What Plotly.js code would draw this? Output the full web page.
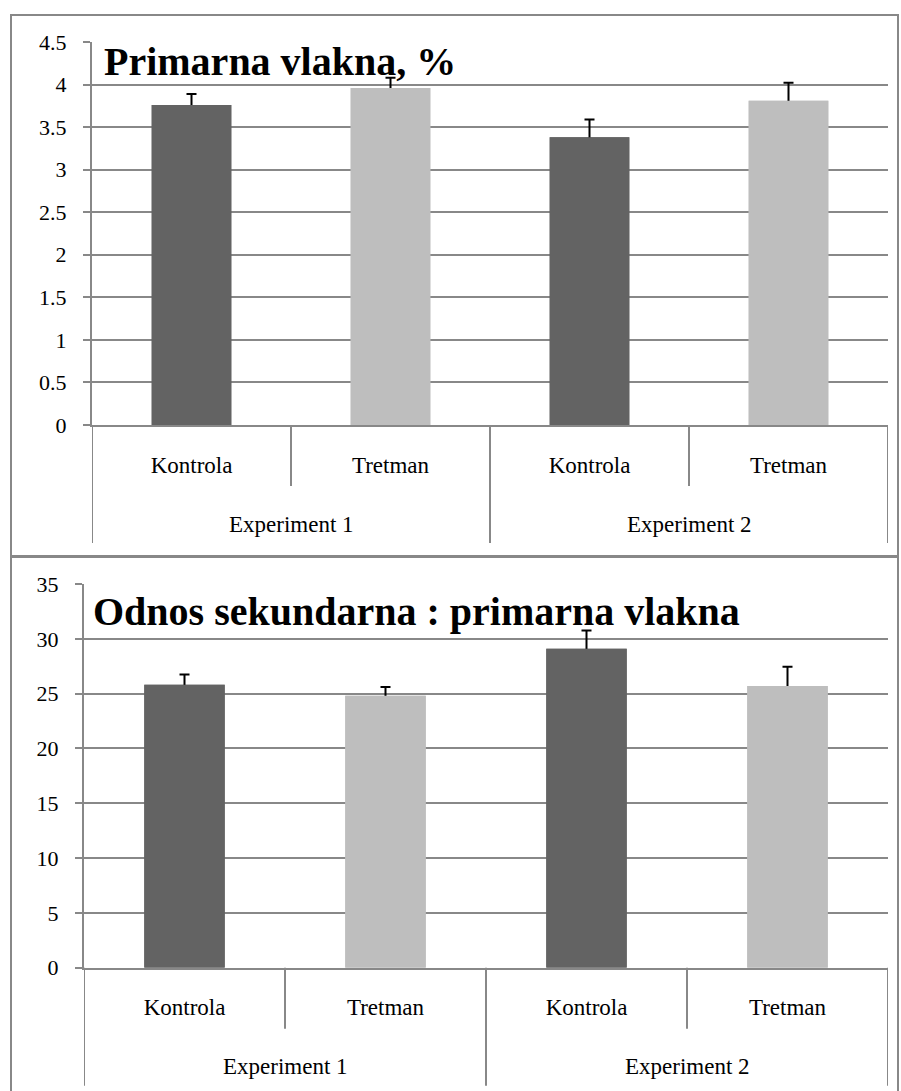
<!DOCTYPE html>
<html>
<head>
<meta charset="utf-8">
<script src="https://cdn.plot.ly/plotly-3.0.1.min.js"></script>
<style>
html,body{margin:0;padding:0;background:#fff;}
#chart{width:901px;height:1091px;}
</style>
</head>
<body>
<div id="chart"></div>
<script>
// ---- data ----
const experiments = ["Experiment 1", "Experiment 1", "Experiment 2", "Experiment 2"];
const groups = ["Kontrola", "Tretman", "Kontrola", "Tretman"];
const primarnaValues = [3.76, 3.96, 3.38, 3.81];
const primarnaErrors = [0.13, 0.12, 0.21, 0.21];
const odnosValues = [25.8, 24.8, 29.1, 25.7];
const odnosErrors = [0.95, 0.8, 1.65, 1.75];
const barColors = ["#636363", "#bebebe", "#636363", "#bebebe"];
const title1 = "Primarna vlakna, %";
const title2 = "Odnos sekundarna : primarna vlakna";

// ---- layout helpers ----
const W = 901, H = 1091;
const px = v => v / W;
const py = v => 1 - v / H;
const GRID = "#888888";
const FONT = "Liberation Serif, Times New Roman, serif";

// unique category ids (experiment + group), shown with the group name only
const cats = groups.map((g, i) => experiments[i] + " | " + g);

function barTraces(vals, errs, xa, ya) {
  return [
    { type: "bar", x: cats, y: vals, xaxis: xa, yaxis: ya, width: 0.4,
      marker: { color: barColors, line: { width: 0 } },
      error_y: { type: "data", array: errs, symmetric: true, visible: true,
                 color: "#000", thickness: 2, width: 5 },
      hoverinfo: "skip", showlegend: false },
    { type: "bar", x: cats, y: vals, xaxis: xa, yaxis: ya, width: 0.4,
      marker: { color: barColors, line: { width: 0 } },
      hoverinfo: "skip", showlegend: false }
  ];
}

// dividers + experiment labels below a category axis
function axisDecor(xref, axisPx) {
  const shapes = [], anns = [];
  const n = groups.length;
  for (let i = 0; i <= n; i++) {
    const outer = (i === 0 || i === n || experiments[i] !== experiments[i - 1]);
    const len = outer ? 118 : 61;
    shapes.push({ type: "line", xref: xref, yref: "paper", x0: i - 0.5, x1: i - 0.5,
      y0: py(axisPx), y1: py(axisPx + len), line: { color: GRID, width: 2 } });
  }
  const uniq = [...new Set(experiments)];
  uniq.forEach(e => {
    const idx = experiments.map((v, i) => v === e ? i : -1).filter(i => i >= 0);
    const mid = (idx[0] + idx[idx.length - 1]) / 2;
    anns.push({ xref: xref, yref: "paper", x: mid, y: py(axisPx + 99), xanchor: "center", yanchor: "middle",
      text: e, showarrow: false, font: { family: FONT, size: 23, color: "#000" } });
  });
  return { shapes, anns };
}

const xCommon = {
  type: "category",
  tickvals: cats, ticktext: groups,
  showgrid: false,
  showline: true, linecolor: GRID, linewidth: 2,
  ticks: "",
  ticklabelstandoff: 18,
  tickfont: { family: FONT, size: 23, color: "#000" },
  range: [-0.5, groups.length - 0.5],
  fixedrange: true
};
const yCommon = {
  showgrid: true, gridcolor: GRID, gridwidth: 2,
  showline: true, linecolor: GRID, linewidth: 2,
  ticks: "outside", ticklen: 7, tickcolor: GRID, tickwidth: 2,
  zeroline: false,
  tickfont: { family: FONT, size: 22, color: "#000" },
  ticklabelstandoff: 12,
  fixedrange: true
};

const data = [].concat(
  barTraces(primarnaValues, primarnaErrors, "x", "y"),
  barTraces(odnosValues, odnosErrors, "x2", "y2")
);

const d1 = axisDecor("x", 425);
const d2 = axisDecor("x2", 967.7);

const layout = {
  width: W, height: H,
  margin: { l: 0, r: 0, t: 0, b: 0 },
  paper_bgcolor: "#fff", plot_bgcolor: "rgba(0,0,0,0)",
  barmode: "overlay",
  showlegend: false,
  xaxis: Object.assign({}, xCommon, { domain: [px(92), px(888)], anchor: "y" }),
  yaxis: Object.assign({}, yCommon, { domain: [py(425), py(42)], range: [0, 4.5], dtick: 0.5, anchor: "x" }),
  xaxis2: Object.assign({}, xCommon, { domain: [px(84), px(888)], anchor: "y2" }),
  yaxis2: Object.assign({}, yCommon, { domain: [py(967.7), py(584)], range: [0, 35], dtick: 5, anchor: "x2" }),
  annotations: [
    { xref: "paper", yref: "paper", x: px(102), y: py(61), xanchor: "left", yanchor: "middle",
      text: "<b>" + title1 + "</b>", showarrow: false,
      font: { family: FONT, size: 40, color: "#000" } },
    { xref: "paper", yref: "paper", x: px(91), y: py(611), xanchor: "left", yanchor: "middle",
      text: "<b>" + title2 + "</b>", showarrow: false,
      font: { family: FONT, size: 40, color: "#000" } }
  ].concat(d1.anns, d2.anns),
  shapes: [
    { type: "rect", xref: "paper", yref: "paper", x0: px(11), x1: px(898), y0: py(556), y1: py(15),
      line: { color: GRID, width: 2 }, layer: "below" },
    { type: "rect", xref: "paper", yref: "paper", x0: px(11), x1: px(898), y0: py(1100), y1: py(557),
      line: { color: GRID, width: 2 }, layer: "below" }
  ].concat(d1.shapes, d2.shapes)
};

Plotly.newPlot("chart", data, layout, { staticPlot: true, displayModeBar: false });
</script>
</body>
</html>
